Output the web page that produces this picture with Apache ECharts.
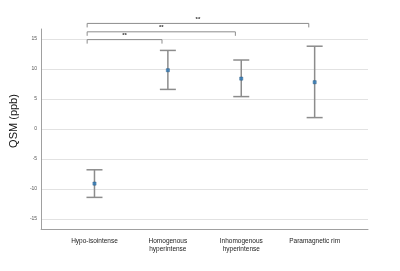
<!DOCTYPE html>
<html>
<head>
<meta charset="utf-8">
<script src="https://cdn.jsdelivr.net/npm/echarts@6/dist/echarts.min.js"></script>
<style>
  html, body { margin: 0; padding: 0; background: #fff; }
  #chart { width: 400px; height: 271px; }
</style>
</head>
<body>
<div id="chart"></div>
<script>
// categories and values
var categories = ["Hypo-isointense", "Homogenous\nhyperintense", "Inhomogenous\nhyperintense", "Paramagnetic rim"];
var means = [-9.1, 9.8, 8.4, 7.8];
var upper = [-6.8, 13.1, 11.5, 13.8];
var lower = [-11.4, 6.6, 5.4, 1.9];
var yTicks = [-15, -10, -5, 0, 5, 10, 15];
// significance brackets: [from category, to category, level in ppb]
var brackets = [[0, 1, 14.9], [0, 2, 16.2], [0, 3, 17.6]];
var bracketLabel = "**";

var chart = echarts.init(document.getElementById("chart"));

var option = {
  animation: false,
  grid: { left: 37, right: 32, top: 29, bottom: 42 },
  xAxis: {
    type: "value",
    min: -0.727,
    max: 3.727,
    axisLine: { show: true, onZero: false, lineStyle: { color: "#a0a0a0", width: 1 } },
    axisTick: { show: false, customValues: [0, 1, 2, 3] },
    splitLine: { show: false },
    axisLabel: {
      customValues: [0, 1, 2, 3],
      formatter: function (v) { return categories[Math.round(v)]; },
      color: "#222",
      fontSize: 6.5,
      fontFamily: "Liberation Sans",
      lineHeight: 8,
      margin: 8
    }
  },
  yAxis: {
    type: "value",
    min: -16.67,
    max: 16.67,
    name: "QSM (ppb)",
    nameLocation: "middle",
    nameGap: 16,
    nameTextStyle: { color: "#111", fontSize: 11, fontFamily: "Liberation Sans", padding: [0, 0, 0, 16] },
    axisLine: { show: true, onZero: false, lineStyle: { color: "#a0a0a0", width: 1 } },
    axisTick: { show: false, customValues: yTicks },
    axisLabel: {
      customValues: yTicks,
      color: "#555",
      fontSize: 5,
      fontFamily: "Liberation Sans",
      margin: 4
    },
    splitLine: { show: true, lineStyle: { color: "#e2e2e2", width: 1 } }
  },
  series: [
    {
      type: "custom",
      name: "error",
      renderItem: function (params, api) {
        var x = api.value(0);
        var top = api.coord([x, api.value(1)]);
        var bot = api.coord([x, api.value(2)]);
        var half = 8;
        var style = { stroke: "#8c8c8c", lineWidth: 1.5 };
        return {
          type: "group",
          children: [
            { type: "line", shape: { x1: top[0], y1: top[1], x2: bot[0], y2: bot[1] }, style: style },
            { type: "line", shape: { x1: top[0] - half, y1: top[1], x2: top[0] + half, y2: top[1] }, style: style },
            { type: "line", shape: { x1: bot[0] - half, y1: bot[1], x2: bot[0] + half, y2: bot[1] }, style: style }
          ]
        };
      },
      data: categories.map(function (c, i) { return [i, upper[i], lower[i]]; }),
      z: 2
    },
    {
      type: "scatter",
      symbol: "rect",
      symbolSize: 3.2,
      itemStyle: { color: "#2b7bbb", borderColor: "#1d4e78", borderWidth: 0.5 },
      data: categories.map(function (c, i) { return [i, means[i]]; }),
      z: 3
    },
    {
      type: "custom",
      name: "brackets",
      clip: false,
      renderItem: function (params, api) {
        var a = api.coord([api.value(0) - 0.1, api.value(2)]);
        var b = api.coord([api.value(1) - 0.08, api.value(2)]);
        var drop = 4;
        var style = { stroke: "#8c8c8c", lineWidth: 1 };
        return {
          type: "group",
          children: [
            { type: "line", shape: { x1: a[0], y1: a[1], x2: b[0], y2: b[1] }, style: style },
            { type: "line", shape: { x1: a[0], y1: a[1], x2: a[0], y2: a[1] + drop }, style: style },
            { type: "line", shape: { x1: b[0], y1: b[1], x2: b[0], y2: b[1] + drop }, style: style },
            {
              type: "text",
              style: {
                text: bracketLabel,
                x: (a[0] + b[0]) / 2,
                y: a[1] - 1,
                textAlign: "center",
                textVerticalAlign: "bottom",
                fill: "#333",
                font: "bold 6px Liberation Sans"
              }
            }
          ]
        };
      },
      data: brackets,
      z: 4
    }
  ]
};

chart.setOption(option);
window.addEventListener("resize", function () {
  chart.resize();
});
</script>
</body>
</html>
